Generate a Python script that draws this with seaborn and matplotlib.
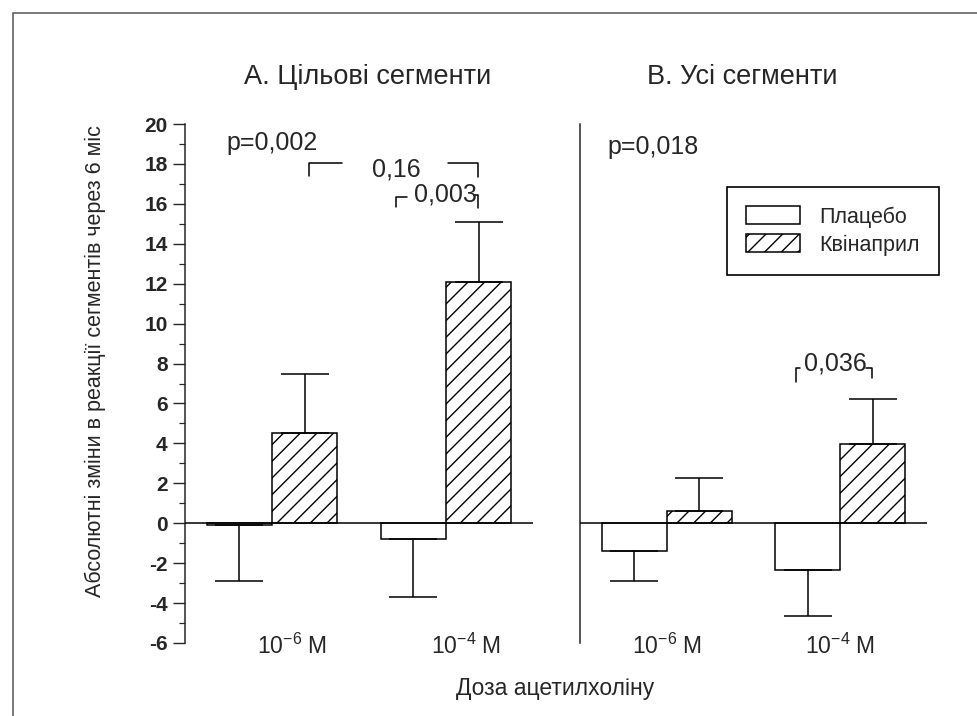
import numpy as np
import pandas as pd
import matplotlib
matplotlib.use("Agg")
import matplotlib.pyplot as plt
import seaborn as sns
from matplotlib.patches import Patch, Rectangle
from matplotlib.ticker import MultipleLocator
from matplotlib.transforms import ScaledTranslation

# ---------------- data ----------------
doses = ["1e-6", "1e-4"]
dose_labels = [r"$\mathregular{10^{-6}}$ М", r"$\mathregular{10^{-4}}$ М"]
groups = ["Плацебо", "Квінаприл"]

target_placebo = [-0.1, -0.8]
target_placebo_err = [2.8, 2.9]
target_quinapril = [4.5, 12.1]
target_quinapril_err = [3.0, 3.0]

all_placebo = [-1.4, -2.35]
all_placebo_err = [1.5, 2.3]
all_quinapril = [0.6, 3.95]
all_quinapril_err = [1.65, 2.25]

panel_titles = ["А. Цільові сегменти", "В. Усі сегменти"]
y_label = "Абсолютні зміни в реакції сегментів через 6 міс"
x_label = "Доза ацетилхоліну"

# ---------------- style ----------------
sns.set_style("ticks")
plt.rcParams["font.family"] = ["Liberation Sans", "DejaVu Sans"]
plt.rcParams["mathtext.fontset"] = "custom"
plt.rcParams["mathtext.rm"] = "Liberation Sans"
plt.rcParams["axes.unicode_minus"] = False
plt.rcParams["hatch.linewidth"] = 1.0

NARROW = ["Liberation Sans Narrow", "Liberation Sans", "DejaVu Sans"]

fig = plt.figure(figsize=(9.78, 7.16), dpi=100)
W, H = 978.0, 716.0
ax1 = fig.add_axes([185 / W, 1 - 643 / H, 348 / W, 519 / H])
ax2 = fig.add_axes([580 / W, 1 - 643 / H, 347 / W, 519 / H])


def draw_panel(ax, mp, ep, mq, eq):
    df = pd.DataFrame({
        "dose": doses * 2,
        "group": [groups[0]] * len(doses) + [groups[1]] * len(doses),
        "value": list(mp) + list(mq),
    })
    sns.barplot(data=df, x="dose", y="value", hue="group", order=doses,
                hue_order=groups, palette=["white", "white"], saturation=1,
                edgecolor="black", linewidth=1.1, width=0.75, gap=0,
                errorbar=None, legend=False, ax=ax)
    for bar in ax.containers[1]:
        bar.set_hatch("//")
    for cont, errs in zip(ax.containers, [ep, eq]):
        for bar, e in zip(cont, errs):
            h = bar.get_height()
            xc = bar.get_x() + bar.get_width() / 2
            yerr = [[0], [e]] if h >= 0 else [[e], [0]]
            ax.errorbar([xc], [h], yerr=yerr, fmt="none", ecolor="black",
                        elinewidth=1.1, capsize=17, capthick=1.1)
    ax.axhline(0, color="black", lw=1.1, zorder=3)
    ax.set_xlim(-0.5, 1.5)
    ax.set_ylim(-6, 20)
    ax.set_xlabel("")
    ax.set_ylabel("")
    for s in ["top", "right", "bottom"]:
        ax.spines[s].set_visible(False)
    ax.spines["left"].set_linewidth(1.1)
    ax.set_xticks(range(len(doses)))
    ax.set_xticklabels(dose_labels, fontsize=16.5)
    ax.tick_params(axis="x", length=0, pad=-7)


draw_panel(ax1, target_placebo, target_placebo_err, target_quinapril, target_quinapril_err)
draw_panel(ax2, all_placebo, all_placebo_err, all_quinapril, all_quinapril_err)

# y axis (left panel)
ax1.set_yticks(np.arange(-6, 21, 2))
ax1.yaxis.set_minor_locator(MultipleLocator(1))
ax1.tick_params(axis="y", which="major", length=9, width=1.0, direction="out", labelsize=15)
ax1.tick_params(axis="y", which="minor", length=4.5, width=0.9, direction="out")
for t in ax1.get_yticklabels():
    t.set_fontweight("bold")
    t.set_family(NARROW)
ax1.set_ylabel(y_label, fontsize=15.5)
ax1.yaxis.set_label_coords((106 - 185) / 348, (643 - 361) / 519)

ax2.set_yticks([])
ax2.tick_params(axis="y", which="both", length=0)

# shift left-panel tick labels slightly right as in the reference
for lbl in ax1.get_xticklabels():
    lbl.set_transform(lbl.get_transform() + ScaledTranslation(0.2, 0, fig.dpi_scale_trans))

# titles
ax1.set_title(panel_titles[0], fontsize=19.5, x=(368 - 185) / 348, y=(643 - 84) / 519, pad=0)
ax2.set_title(panel_titles[1], fontsize=19.5, x=(742 - 580) / 347, y=(643 - 84) / 519, pad=0)

# x label
fig.text(555 / W, 1 - 688 / H, x_label, fontsize=16.5, ha="center", va="center")

# annotations, left panel
ann_kw = dict(fontsize=18, va="center")
ax1.text(-0.259, 19.05, "p=0,002", ha="left", **ann_kw)
ax1.text(0.713, 17.7, "0,16", ha="center", **ann_kw)
ax1.plot([0.21, 0.21, 0.40], [17.4, 18.05, 18.05], color="black", lw=1.1)
ax1.plot([1.01, 1.184, 1.184], [18.05, 18.05, 17.35], color="black", lw=1.1)
ax1.text(0.995, 16.45, "0,003", ha="center", **ann_kw)
ax1.plot([0.713, 0.713, 0.776], [15.84, 16.34, 16.34], color="black", lw=1.1)
ax1.plot([1.16, 1.184, 1.184], [16.45, 16.45, 15.8], color="black", lw=1.1)

# annotations, right panel
ax2.text(-0.341, 18.85, "p=0,018", ha="left", **ann_kw)
ax2.text(0.971, 8.02, "0,036", ha="center", **ann_kw)
ax2.plot([0.746, 0.746, 0.769], [7.07, 7.8, 7.8], color="black", lw=1.1)
ax2.plot([1.15, 1.185, 1.185], [7.8, 7.8, 7.27], color="black", lw=1.1)

# legend
handles = [Patch(facecolor="white", edgecolor="black", lw=1.1, label=groups[0]),
           Patch(facecolor="white", edgecolor="black", lw=1.1, hatch="//", label=groups[1])]
leg = ax2.legend(handles=handles, loc="upper left",
                 bbox_to_anchor=(727 / W, 1 - 187 / H), bbox_transform=fig.transFigure,
                 frameon=True, fancybox=False, edgecolor="black", fontsize=15.5,
                 handlelength=2.5, handleheight=0.9, borderpad=0.9,
                 labelspacing=0.3, handletextpad=0.9, borderaxespad=0)
leg.get_frame().set_linewidth(1.2)
leg.get_frame().set_alpha(1)

# outer frame
fig.add_artist(Rectangle((12.7 / W, -0.5), 2.0, 0.5 + (1 - 12.7 / H),
                         transform=fig.transFigure, fill=False,
                         edgecolor="#555555", lw=1.1))

fig.savefig("out.png", dpi=100)
